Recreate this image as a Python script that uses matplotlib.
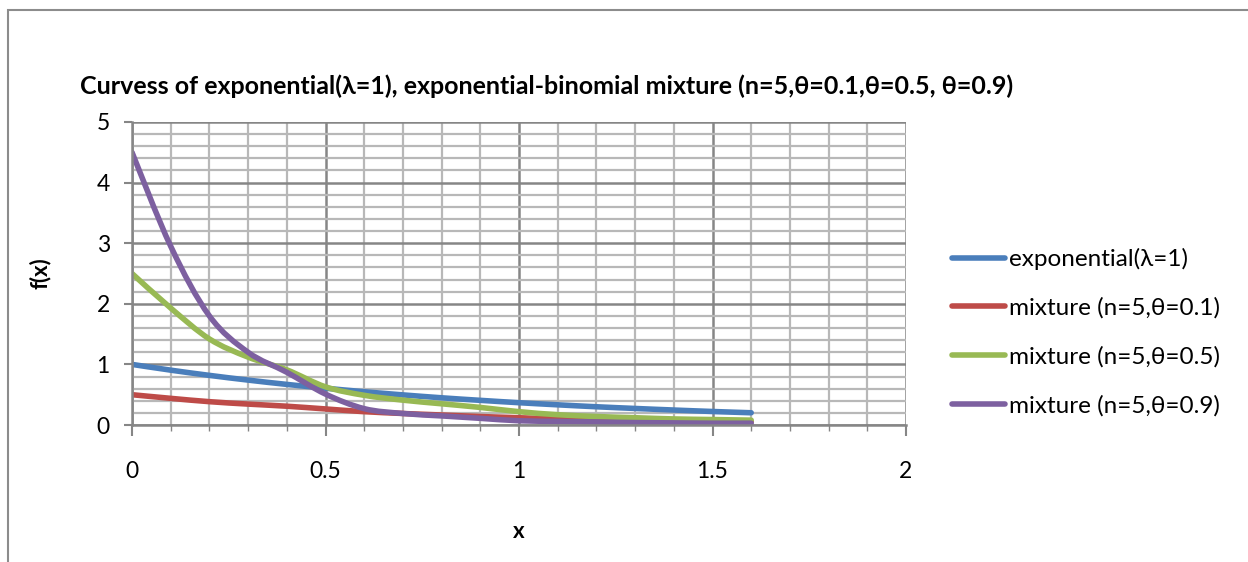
import numpy as np
from matplotlib import pyplot as plt
from matplotlib.patches import Rectangle, PathPatch
from matplotlib.path import Path
from matplotlib.lines import Line2D
from matplotlib.ticker import MultipleLocator

# x grid of the densities
x = np.round(np.arange(0, 1.61, 0.1), 1)

# f(x) values for each curve
expo = [1.0, 0.905, 0.819, 0.741, 0.670, 0.607, 0.549, 0.497, 0.449,
        0.407, 0.368, 0.333, 0.301, 0.273, 0.247, 0.223, 0.202]
mix_01 = [0.5, 0.44, 0.385, 0.345, 0.31, 0.265, 0.22, 0.19, 0.165,
          0.14, 0.12, 0.10, 0.09, 0.08, 0.07, 0.06, 0.055]
mix_05 = [2.5, 1.93, 1.42, 1.12, 0.91, 0.63, 0.49, 0.41, 0.35,
          0.29, 0.22, 0.17, 0.14, 0.12, 0.10, 0.09, 0.08]
mix_09 = [4.5, 2.95, 1.8, 1.2, 0.87, 0.51, 0.27, 0.19, 0.15,
          0.11, 0.07, 0.06, 0.05, 0.04, 0.035, 0.03, 0.03]

labels = ["exponential(λ=1)", "mixture (n=5,θ=0.1)",
          "mixture (n=5,θ=0.5)", "mixture (n=5,θ=0.9)"]
colors = ["#4A7EBB", "#BE4B48", "#98B954", "#7D60A0"]


def smooth_path(xs, ys):
    """Bezier path through the points (Catmull-Rom tangents), like a smoothed line chart."""
    p = np.column_stack([xs, ys]).astype(float)
    verts = [p[0]]
    codes = [Path.MOVETO]
    n = len(p)
    for i in range(n - 1):
        p0 = p[max(i - 1, 0)]
        p1 = p[i]
        p2 = p[i + 1]
        p3 = p[min(i + 2, n - 1)]
        c1 = p1 + (p2 - p0) / 6.0
        c2 = p2 - (p3 - p1) / 6.0
        verts += [c1, c2, p2]
        codes += [Path.CURVE4] * 3
    return Path(verts, codes)


plt.rcParams['font.family'] = ['Lato', 'DejaVu Sans']

fig = plt.figure(figsize=(12.48, 5.62), dpi=100)
fig.patches.append(Rectangle((8 / 1248, -0.1), 1.2, 1 - 10 / 562 + 0.1,
                             transform=fig.transFigure, fill=False,
                             edgecolor="#8c8c8c", linewidth=1.5))

ax = fig.add_axes([132 / 1248, 1 - 425 / 562, (906 - 132) / 1248, (425 - 122) / 562])

lw = 4.0
handles = []
for y, lab, c in zip([expo, mix_01, mix_05, mix_09], labels, colors):
    ax.add_patch(PathPatch(smooth_path(x, y), facecolor='none', edgecolor=c,
                           linewidth=lw, capstyle='round', joinstyle='round'))
    handles.append(Line2D([], [], color=c, linewidth=lw,
                          solid_capstyle='round', label=lab))

ax.set_xlim(0, 2)
ax.set_ylim(0, 5)
ax.xaxis.set_major_locator(MultipleLocator(0.5))
ax.xaxis.set_minor_locator(MultipleLocator(0.1))
ax.yaxis.set_major_locator(MultipleLocator(1))
ax.yaxis.set_minor_locator(MultipleLocator(0.2))
ax.xaxis.set_major_formatter(plt.FuncFormatter(lambda v, p: f"{v:g}"))

ax.grid(which='major', color="#868686", linewidth=1.8)
ax.grid(which='minor', color="#b8b8b8", linewidth=1.6)
ax.set_axisbelow(True)

for s in ['top', 'right']:
    ax.spines[s].set_visible(False)
for s in ['left', 'bottom']:
    ax.spines[s].set_color("#868686")
    ax.spines[s].set_linewidth(1.8)

ax.tick_params(axis='x', which='major', direction='out', length=8, width=1.5,
               color="#868686", labelsize=16.5, pad=18)
ax.tick_params(axis='x', which='minor', direction='out', length=4, width=1,
               color="#868686")
ax.tick_params(axis='y', which='major', direction='out', length=6, width=1.5,
               color="#868686", labelsize=16.5, pad=10)
ax.tick_params(axis='y', which='minor', length=0)

ax.set_xlabel("x", fontsize=16, fontweight='bold', labelpad=28)
ax.set_ylabel("f(x)", fontsize=16, fontweight='bold', labelpad=33)

fig.text(80 / 1248, 1 - 86 / 562,
         "Curvess of exponential(λ=1), exponential-binomial mixture (n=5,θ=0.1,θ=0.5, θ=0.9)",
         fontsize=18, fontweight='bold', va='center', ha='left')

fig.legend(handles=handles, loc='upper left', bbox_to_anchor=(952 / 1248, 1 - 248 / 562),
           frameon=False, fontsize=17.5, handlelength=2.2, handletextpad=0.15,
           labelspacing=1.12, borderpad=0, borderaxespad=0)

fig.savefig("out.png", dpi=100)
